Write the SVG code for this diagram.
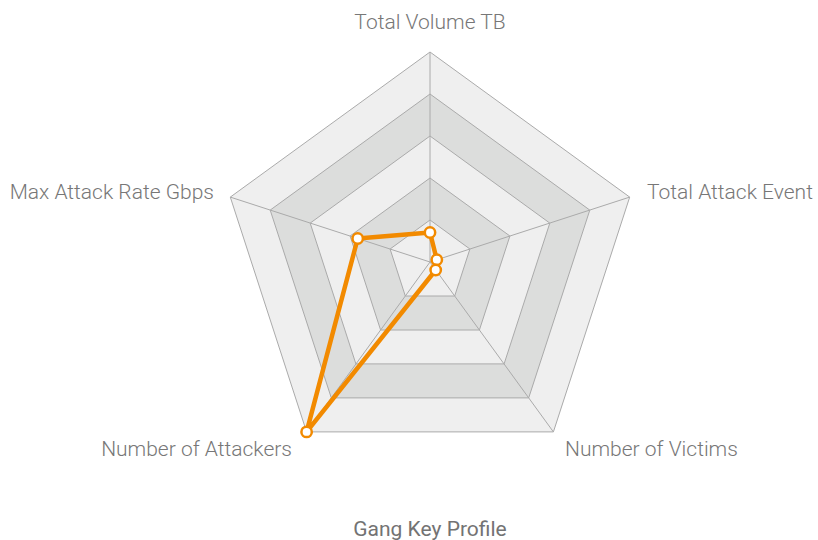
<svg xmlns="http://www.w3.org/2000/svg" width="818" height="540" viewBox="0 0 818 540">
<style>
.lt{fill:#efefef;stroke:#aaaaaa;stroke-width:1}
.dk{fill:#dcdddc;stroke:#aaaaaa;stroke-width:1}
.spoke{stroke:#aaaaaa;stroke-width:1;fill:none}
.lbl{font-family:Roboto,"Liberation Sans",sans-serif;font-weight:300;font-size:21px;fill:#777777}
.ttl{font-family:Roboto,"Liberation Sans",sans-serif;font-weight:400;font-size:21px;fill:#737373}
.series{fill:none;stroke:#f28a00;stroke-width:4.5;stroke-linejoin:round}
.pt{fill:#ffffff;stroke:#f28a00;stroke-width:2.5}
</style>
<rect width="818" height="540" fill="#ffffff"/>
<g id="grid">
<polygon class="lt" points="430,52 629.7,197.1 553.4,431.9 306.6,431.9 230.3,197.1"/>
<polygon class="dk" points="430,94 589.8,210.1 528.7,397.9 331.3,397.9 270.2,210.1"/>
<polygon class="lt" points="430,136 549.8,223.1 504.1,363.9 355.9,363.9 310.2,223.1"/>
<polygon class="dk" points="430,178 509.9,236 479.4,330 380.6,330 350.1,236"/>
<polygon class="lt" points="430,220 469.9,249 454.7,296 405.3,296 390.1,249"/>
<g class="spoke">
<line x1="430" y1="262" x2="430" y2="52"/>
<line x1="430" y1="262" x2="629.7" y2="197.1"/>
<line x1="430" y1="262" x2="553.4" y2="431.9"/>
<line x1="430" y1="262" x2="306.6" y2="431.9"/>
<line x1="430" y1="262" x2="230.3" y2="197.1"/>
</g>
</g>
<g id="axis-labels">
<text class="lbl" x="430" y="29" text-anchor="middle">Total Volume TB</text>
<text class="lbl" x="647" y="199">Total Attack Event</text>
<text class="lbl" x="565" y="456">Number of Victims</text>
<text class="lbl" x="292" y="456" text-anchor="end">Number of Attackers</text>
<text class="lbl" x="214" y="199" text-anchor="end">Max Attack Rate Gbps</text>
</g>
<g id="series">
<polygon class="series" points="430,232.5 436.8,259.7 435.7,270 306.6,431.9 357.7,238.5"/>
<circle class="pt" cx="430" cy="232.5" r="5.2"/>
<circle class="pt" cx="436.8" cy="259.7" r="5.2"/>
<circle class="pt" cx="435.7" cy="270" r="5.2"/>
<circle class="pt" cx="306.6" cy="431.9" r="5.2"/>
<circle class="pt" cx="357.7" cy="238.5" r="5.2"/>
</g>
<g id="title">
<text class="ttl" x="430" y="536" text-anchor="middle">Gang Key Profile</text>
</g>
</svg>
